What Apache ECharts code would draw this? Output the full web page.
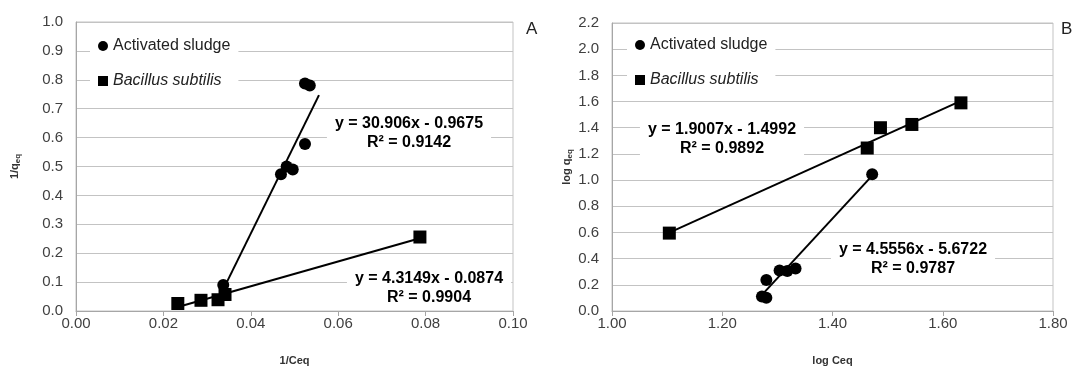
<!DOCTYPE html>
<html>
<head>
<meta charset="utf-8">
<script src="https://cdn.jsdelivr.net/npm/echarts/dist/echarts.min.js"></script>
<style>
  html, body { margin: 0; padding: 0; background: #fff; }
  #myChart { width: 1072px; height: 371px; }
</style>
</head>
<body>
<div id="myChart"></div>
<script>
  // panel A: 1/qeq vs 1/Ceq
  let sludgeA = [[0.0524, 0.787], [0.0535, 0.780], [0.0524, 0.578], [0.0496, 0.490], [0.0482, 0.500], [0.0469, 0.473], [0.0337, 0.090]];
  let bacillusA = [[0.0233, 0.026], [0.0286, 0.037], [0.0325, 0.039], [0.0341, 0.057], [0.0787, 0.256]];
  let fitSludgeA = [[0.0337, 0.075], [0.0556, 0.747]];
  let fitBacillusA = [[0.0233, 0.014], [0.0787, 0.252]];
  // panel B: log qeq vs log Ceq
  let sludgeB = [[1.272, 0.110], [1.280, 0.102], [1.280, 0.237], [1.304, 0.310], [1.318, 0.305], [1.333, 0.324], [1.472, 1.045]];
  let bacillusB = [[1.104, 0.595], [1.463, 1.245], [1.487, 1.400], [1.544, 1.425], [1.633, 1.590]];
  let fitSludgeB = [[1.272, 0.123], [1.472, 1.034]];
  let fitBacillusB = [[1.104, 0.599], [1.633, 1.605]];

  let eqA1 = 'y = 30.906x - 0.9675\nR² = 0.9142';
  let eqA2 = 'y = 4.3149x - 0.0874\nR² = 0.9904';
  let eqB1 = 'y = 1.9007x - 1.4992\nR² = 0.9892';
  let eqB2 = 'y = 4.5556x - 5.6722\nR² = 0.9787';

  let fontName = 'Liberation Sans, Arial, sans-serif';
  let gridColor = '#c3c3c3';

  function xAxisCfg(idx, min, max, step, digits, title) {
    return {
      gridIndex: idx, type: 'value', min: min, max: max, interval: step,
      name: title, nameLocation: 'middle', nameGap: 44,
      nameTextStyle: { fontFamily: fontName, fontWeight: 'bold', fontSize: 11, color: '#333' },
      axisLine: { lineStyle: { color: '#a6a6a6' } },
      axisTick: { show: true, length: 5, lineStyle: { color: '#a6a6a6' } },
      splitLine: { show: false },
      axisLabel: { fontFamily: fontName, fontSize: 15, color: '#404040', margin: 5,
        formatter: v => v.toFixed(digits) }
    };
  }
  function yAxisCfg(idx, max, step, pre, gap) {
    return {
      gridIndex: idx, type: 'value', min: 0, max: max, interval: step,
      name: '{b|' + pre + '}{s|eq}', nameLocation: 'middle', nameGap: gap, nameRotate: 90,
      nameTextStyle: { rich: {
        b: { fontFamily: fontName, fontWeight: 'bold', fontSize: 11, color: '#333' },
        s: { fontFamily: fontName, fontWeight: 'bold', fontSize: 8, color: '#333', verticalAlign: 'bottom', padding: [6, 0, 0, 0] }
      } },
      axisLine: { show: true, lineStyle: { color: '#a6a6a6' } },
      axisTick: { show: false },
      splitLine: { show: true, lineStyle: { color: gridColor } },
      axisLabel: { fontFamily: fontName, fontSize: 15, color: '#404040', margin: 13,
        formatter: v => v.toFixed(1) }
    };
  }
  function pts(name, idx, data, symbol, size) {
    return { name: name, type: 'scatter', xAxisIndex: idx, yAxisIndex: idx, data: data,
      symbol: symbol, symbolSize: size, itemStyle: { color: '#000', opacity: 1 }, z: 5 };
  }
  function fit(idx, data) {
    return { name: 'fit', type: 'line', xAxisIndex: idx, yAxisIndex: idx, data: data,
      showSymbol: false, lineStyle: { color: '#000', width: 2 }, silent: true, z: 4 };
  }
  function legendCfg(left, top) {
    return {
      orient: 'vertical', left: left, top: top, padding: [4, 8], itemGap: 19,
      itemWidth: 10, itemHeight: 10, backgroundColor: '#fff',
      data: [{ name: 'Activated sludge', icon: 'circle' }, { name: 'Bacillus subtilis', icon: 'rect' }],
      formatter: n => n === 'Bacillus subtilis' ? '{i|' + n + '}' : n,
      textStyle: { fontFamily: fontName, fontSize: 16, color: '#222',
        rich: { i: { fontFamily: fontName, fontSize: 16, fontStyle: 'italic', color: '#222' } } }
    };
  }
  function eqText(x, y, text) {
    return { type: 'text', x: x, y: y, z: 10,
      style: { text: text, fontFamily: fontName, fontWeight: 'bold', fontSize: 16, lineHeight: 19,
        fill: '#000', align: 'center', verticalAlign: 'middle', backgroundColor: '#fff', padding: [1, 8] } };
  }

  let myChart = echarts.init(document.getElementById('myChart'));
  myChart.setOption({
    animation: false,
    grid: [
      { left: 76, right: 559, top: 22, bottom: 53, show: true, borderColor: gridColor, borderWidth: 1 },
      { left: 612, right: 19, top: 23, bottom: 50, show: true, borderColor: gridColor, borderWidth: 1 }
    ],
    xAxis: [
      xAxisCfg(0, 0, 0.10, 0.02, 2, '1/Ceq'),
      xAxisCfg(1, 1.0, 1.8, 0.2, 2, 'log Ceq')
    ],
    yAxis: [
      yAxisCfg(0, 1.0, 0.1, '1/q', 54),
      yAxisCfg(1, 2.2, 0.2, 'log q', 36)
    ],
    legend: [legendCfg(90, 34), legendCfg(627, 33)],
    series: [
      fit(0, fitSludgeA), fit(0, fitBacillusA),
      pts('Activated sludge', 0, sludgeA, 'circle', 12),
      pts('Bacillus subtilis', 0, bacillusA, 'rect', 13),
      fit(1, fitSludgeB), fit(1, fitBacillusB),
      pts('Activated sludge', 1, sludgeB, 'circle', 12),
      pts('Bacillus subtilis', 1, bacillusB, 'rect', 13)
    ],
    graphic: [
      eqText(409, 133, eqA1),
      eqText(429, 288, eqA2),
      eqText(722, 139, eqB1),
      eqText(913, 259, eqB2),
      { type: 'text', x: 526, y: 21, style: { text: 'A', fontFamily: fontName, fontSize: 17, fill: '#222' } },
      { type: 'text', x: 1061, y: 21, style: { text: 'B', fontFamily: fontName, fontSize: 17, fill: '#222' } }
    ]
  });
</script>
</body>
</html>
